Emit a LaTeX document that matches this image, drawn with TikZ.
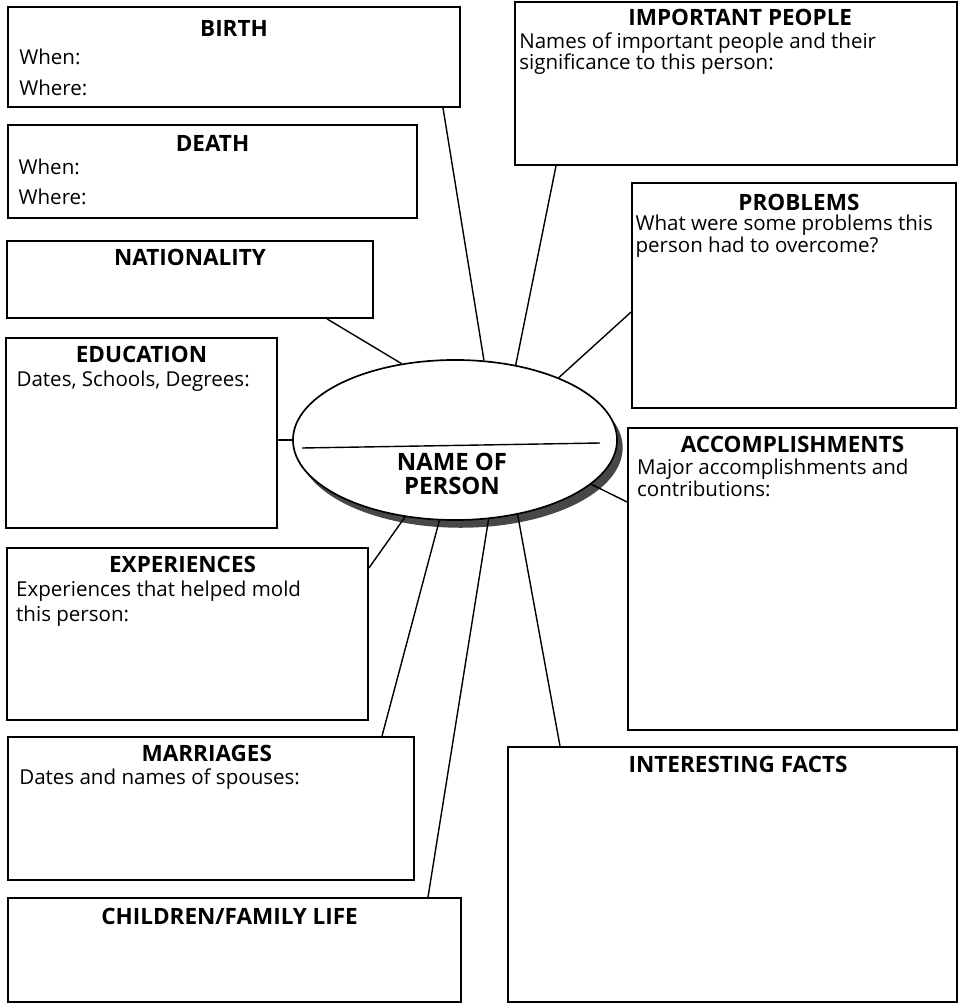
\documentclass[tikz,border=0pt]{standalone}
\usepackage{fontspec}
\setmainfont{Open Sans}
\usetikzlibrary{positioning,fit,shapes.geometric,shadows}

\begin{document}
\begin{tikzpicture}[x=0.025cm,y=-0.025cm,
        box/.style = {draw, line width=1.3pt, inner sep=0pt},
        head/.style = {inner sep=0pt, font=\fontsize{16}{18}\selectfont\bfseries},
        txt/.style = {inner sep=0pt, align=left, font=\fontsize{14.6}{16.5}\selectfont},
        hub/.style = {draw, ellipse, line width=1.2pt, fill=white, minimum width=8.1cm, minimum height=4cm,
            drop shadow={shadow xshift=4pt, shadow yshift=-5.5pt, opacity=1, fill=black!72}},
        link/.style = {line width=1pt}]
        \useasboundingbox (0,0) rectangle (959,1006);
        % boxes on the left
        \node[box, fit={(8,7) (460,107)}] (1) {};
        \node[box, fit={(8,125) (417,218)}] (2) {};
        \node[box, fit={(7,241) (373,318)}] (3) {};
        \node[box, fit={(6,338) (277,528)}] (4) {};
        \node[box, fit={(7,548) (368,720)}] (5) {};
        \node[box, fit={(8,737) (414,880)}] (6) {};
        \node[box, fit={(8,898) (461,1002)}] (7) {};
        % boxes on the right
        \node[box, fit={(515,2) (957,165)}] (8) {};
        \node[box, fit={(632,183) (956,408)}] (9) {};
        \node[box, fit={(628,428) (957,730)}] (10) {};
        \node[box, fit={(508,747) (957,1002)}] (11) {};
        % headings
        \node[head, below=9.8pt of 1.north] (h1) {BIRTH};
        \node[head, below=7.8pt of 2.north] (h2) {DEATH};
        \node[head, below=6.3pt of 3.north] (h3) {NATIONALITY};
        \node[head, below=6.3pt of 4.north] (h4) {EDUCATION};
        \node[head, below=6.3pt of 5.north, xshift=-3.5pt] (h5) {EXPERIENCES};
        \node[head, below=6.3pt of 6.north, xshift=-3pt] (h6) {MARRIAGES};
        \node[head, below=7.8pt of 7.north, xshift=-3.5pt] (h7) {CHILDREN/FAMILY LIFE};
        \node[head, below=5.6pt of 8.north, xshift=3pt] (h8) {IMPORTANT PEOPLE};
        \node[head, below=8.5pt of 9.north, xshift=3.5pt] (h9) {PROBLEMS};
        \node[head, below=6.3pt of 10.north] (h10) {ACCOMPLISHMENTS};
        \node[head, below=7.1pt of 11.north, xshift=4pt] (h11) {INTERESTING FACTS};
        % prompts
        \node[txt, below right=30.5pt and 8.5pt of 1.north west] (d1) {When:\\[5.5pt]Where:};
        \node[txt, below right=24.8pt and 8pt of 2.north west] (d2) {When:\\[4.8pt]Where:};
        \node[txt, below right=24.1pt and 8pt of 4.north west] (d4) {Dates, Schools, Degrees:};
        \node[txt, below right=24.1pt and 7pt of 5.north west] (d5) {Experiences that helped mold\\[1pt]this person:};
        \node[txt, below right=23.4pt and 8.5pt of 6.north west] (d6) {Dates and names of spouses:};
        \node[txt, below right=22.6pt and 3.5pt of 8.north west] (d8) {Names of important people and their\\[-2pt]significance to this person:};
        \node[txt, below right=23.4pt and 3pt of 9.north west] (d9) {What were some problems this\\[-1pt]person had to overcome?};
        \node[txt, below right=22.6pt and 7pt of 10.north west] (d10) {Major accomplishments and\\[-1pt]contributions:};
        % the person in the middle
        \node[hub] (0) at (455,440) {};
        \draw[link] (302,448) -- (600,443);
        \node[head, align=center, font=\fontsize{17}{16.5}\selectfont\bfseries] (n0) at (452,474) {NAME OF\\PERSON};
        % spokes
        \draw[link] (443,0 |- 1.south) -- (0.70);
        \draw[link] (327,0 |- 3.south) -- (0.125);
        \draw[link] (4.east |- 0.west) -- (0.west);
        \draw[link] (5.east |- 0,568) -- (0.237);
        \draw[link] (382,0 |- 6.north) -- (0.259);
        \draw[link] (428,0 |- 7.north) -- (0.293);
        \draw[link] (560,0 |- 11.north) -- (0.310);
        \draw[link] (10.west |- 0,502) -- (0.342);
        \draw[link] (9.west |- 0,312) -- (0.31);
        \draw[link] (556,0 |- 8.south) -- (0.51);
\end{tikzpicture}
\end{document}
